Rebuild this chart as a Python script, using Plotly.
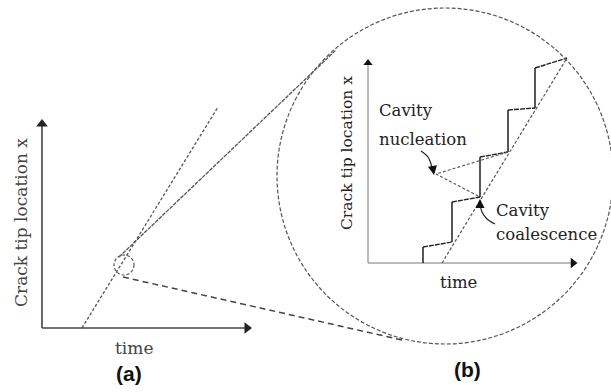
import plotly.graph_objects as go

# All coordinates are in image units (pixels, y grows downward)
W, H = 611, 392

# panel (a): axes, crack growth line, lens lines
a_yaxis_x = [42, 42]
a_yaxis_y = [328, 124]
a_xaxis_x = [42, 246]
a_xaxis_y = [328, 328]
a_growth_x = [82, 218]
a_growth_y = [328, 107]
lens_upper_x = [119, 336]
lens_upper_y = [257, 50]
lens_lower_x = [123, 402]
lens_lower_y = [277, 340]
small_circle = (124, 265, 10)   # cx, cy, r
big_circle = (445, 176, 168)

# panel (b): axes, average growth line, staircase
b_yaxis_x = [368, 368]
b_yaxis_y = [263, 62]
b_xaxis_x = [368, 572]
b_xaxis_y = [263, 263]
b_growth_x = [442, 567]
b_growth_y = [263, 58]
# staircase corners: vertical jumps (solid) and horizontal waits (dashed)
step_x = [423, 423, 452, 452, 480, 480, 508, 508, 535, 535, 567]
step_y = [263, 247, 242, 202, 197, 157, 152, 110, 108, 68, 58]
# dashed lines from nucleation point
nuc_x = [508, 436, 480]
nuc_y = [152, 174, 197]
# curved label pointers
nuc_arrow_x = [421, 428, 431, 433]
nuc_arrow_y = [151, 157, 164, 171]
coa_arrow_x = [495, 487, 482, 480]
coa_arrow_y = [224, 219, 212, 204]

fig = go.Figure()

def line(x, y, color, width, dash="solid", shape="linear"):
    fig.add_trace(go.Scatter(x=x, y=y, mode="lines", hoverinfo="skip",
                             line=dict(color=color, width=width, dash=dash, shape=shape)))

def tri(x, y, symbol, color, size):
    fig.add_trace(go.Scatter(x=[x], y=[y], mode="markers", hoverinfo="skip",
                             marker=dict(symbol=symbol, color=color, size=size, line_width=0)))

# circles
for (cx, cy, r), dash, w in [(small_circle, "3px,2px", 1.2), (big_circle, "4px,2px", 1.2)]:
    fig.add_shape(type="circle", xref="x", yref="y", x0=cx - r, x1=cx + r, y0=cy - r, y1=cy + r,
                  line=dict(color="#555", width=w, dash=dash))

# panel (a)
line(a_yaxis_x, a_yaxis_y, "#444", 1.6)
line(a_xaxis_x, a_xaxis_y, "#444", 1.6)
tri(42, 124, "triangle-up", "#222", 10)
tri(247, 328, "triangle-right", "#222", 10)
line(a_growth_x, a_growth_y, "#555", 1.3, "3px,2px")
line(lens_upper_x, lens_upper_y, "#555", 1.3, "4px,1px")
line(lens_lower_x, lens_lower_y, "#444", 1.5, "6px,4px")

# panel (b)
line(b_yaxis_x, b_yaxis_y, "#777", 1.0)
line(b_xaxis_x, b_xaxis_y, "#777", 1.0)
tri(368, 63, "triangle-up", "#111", 8)
tri(573, 263, "triangle-right", "#111", 9)
line(b_growth_x, b_growth_y, "#555", 1.2, "3px,2px")
for i in range(len(step_x) - 1):
    vertical = step_x[i] == step_x[i + 1]
    line(step_x[i:i + 2], step_y[i:i + 2], "#111" if vertical else "#222",
         1.4, "solid" if vertical else "5px,1px")
line(nuc_x, nuc_y, "#555", 1.1, "3px,2px")
line(nuc_arrow_x, nuc_arrow_y, "#222", 1.2, shape="spline")
line(coa_arrow_x, coa_arrow_y, "#222", 1.2, shape="spline")

for x, y, ax, ay in [(434, 175, 433, 169), (480, 199, 480, 206)]:
    fig.add_annotation(x=x, y=y, ax=ax, ay=ay, xref="x", yref="y", axref="x", ayref="y",
                       text="", showarrow=True, arrowhead=2, arrowsize=1.4, arrowwidth=1.3,
                       arrowcolor="#111")

serif = "DejaVu Serif"
texts = [
    (21, 223, "Crack tip location x", 17, -90, "#444", "center", serif),
    (134, 348, "time", 17, 0, "#444", "center", serif),
    (347, 153, "Crack tip location x", 15.5, -90, "#222", "center", serif),
    (458, 282, "time", 16.5, 0, "#222", "center", serif),
    (377, 110, "Cavity", 16.5, 0, "#222", "left", serif),
    (377, 139, "nucleation", 16.5, 0, "#222", "left", serif),
    (494, 210, "Cavity", 16.5, 0, "#222", "left", serif),
    (494, 234, "coalescence", 16.5, 0, "#222", "left", serif),
]
for x, y, t, s, ang, c, anc, fam in texts:
    fig.add_annotation(x=x, y=y, xref="x", yref="y", text=t, showarrow=False, textangle=ang,
                       xanchor=anc, yanchor="middle", font=dict(family=fam, size=s, color=c))

for x, y, t in [(129, 373, "(a)"), (467, 369, "(b)")]:
    fig.add_annotation(x=x, y=y, xref="x", yref="y", text="<b>%s</b>" % t, showarrow=False,
                       font=dict(family="Liberation Sans", size=21, color="#111"))

fig.update_xaxes(range=[0, W], visible=False)
fig.update_yaxes(range=[H, 0], visible=False)
fig.update_layout(width=W, height=H, margin=dict(l=0, r=0, t=0, b=0),
                  plot_bgcolor="white", paper_bgcolor="white", showlegend=False)

# drop the page's default body margin so the figure sits at the window's corner
fig.write_html("out.html", config={"displayModeBar": False},
               post_script="document.body.style.margin='0px';")
